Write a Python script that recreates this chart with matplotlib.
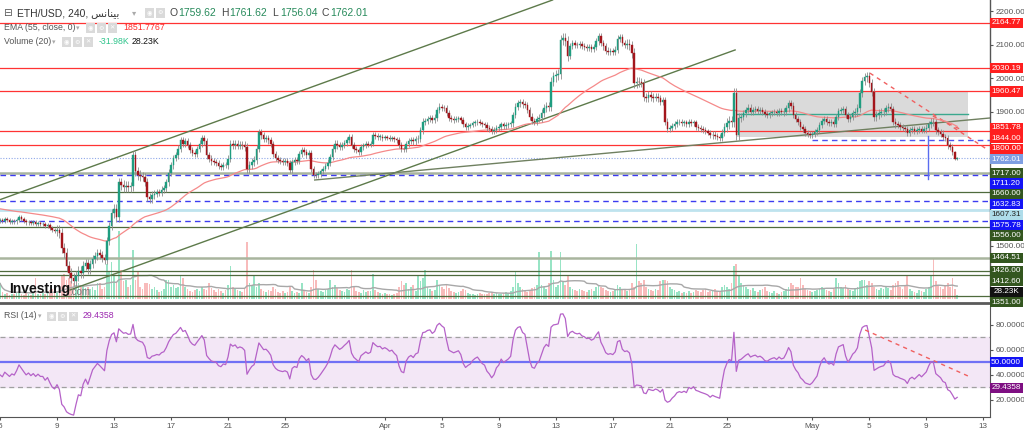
import numpy as np
import pandas as pd
import matplotlib
matplotlib.use("Agg")
import matplotlib.pyplot as plt
import matplotlib.dates as mdates
from matplotlib.patches import Rectangle
from matplotlib.lines import Line2D
from matplotlib.ticker import FormatStrFormatter

W, H = 1024, 433
NARROW = ['Liberation Sans Narrow', 'Liberation Sans', 'DejaVu Sans']
SANS = ['Liberation Sans', 'DejaVu Sans']
plt.rcParams['font.family'] = SANS

# ---------------- data (ETH/USD, 4h candles, 2023) ----------------
start_time = '2023-03-05 00:00'
first_open = 1575.0
close_rows = [
    [1578, 1574, 1580, 1576, 1572, 1575],   # Mar 5
    [1573, 1578, 1585, 1580, 1575, 1570],
    [1572, 1568, 1570, 1566, 1568, 1565],
    [1565, 1560, 1562, 1555, 1548, 1545],
    [1548, 1540, 1495, 1480, 1440, 1420],   # Mar 9
    [1405, 1395, 1410, 1425, 1420, 1440],
    [1450, 1430, 1445, 1462, 1470, 1478],
    [1472, 1465, 1458, 1515, 1560, 1598],
    [1610, 1585, 1690, 1682, 1675, 1680],   # Mar 13
    [1675, 1678, 1770, 1722, 1712, 1708],
    [1705, 1690, 1645, 1640, 1652, 1655],
    [1660, 1658, 1668, 1672, 1690, 1718],
    [1740, 1762, 1770, 1790, 1815, 1805],   # Mar 17
    [1812, 1800, 1785, 1778, 1775, 1790],
    [1805, 1822, 1812, 1770, 1760, 1752],
    [1750, 1748, 1738, 1735, 1742, 1740],
    [1760, 1805, 1800, 1805, 1798, 1802],   # Mar 21
    [1800, 1795, 1728, 1740, 1750, 1755],
    [1790, 1840, 1830, 1820, 1822, 1815],
    [1805, 1775, 1762, 1755, 1752, 1750],
    [1752, 1748, 1725, 1750, 1755, 1752],   # Mar 25
    [1775, 1785, 1780, 1772, 1778, 1730],
    [1712, 1710, 1715, 1722, 1730, 1738],
    [1748, 1765, 1790, 1805, 1800, 1795],
    [1800, 1808, 1815, 1825, 1800, 1790],   # Mar 29
    [1785, 1780, 1795, 1800, 1805, 1802],
    [1805, 1832, 1828, 1825, 1826, 1822],
    [1825, 1823, 1820, 1822, 1818, 1815],   # Apr 1
    [1800, 1790, 1788, 1805, 1812, 1815],
    [1812, 1818, 1820, 1845, 1870, 1872],
    [1878, 1880, 1876, 1882, 1905, 1915],
    [1912, 1910, 1895, 1880, 1878, 1876],   # Apr 5
    [1878, 1880, 1875, 1862, 1855, 1858],
    [1860, 1865, 1868, 1870, 1866, 1862],
    [1860, 1852, 1848, 1842, 1845, 1852],
    [1855, 1862, 1858, 1860, 1862, 1865],   # Apr 9
    [1890, 1915, 1925, 1928, 1922, 1920],
    [1905, 1885, 1872, 1870, 1878, 1882],
    [1895, 1910, 1918, 1915, 1990, 2005],
    [2008, 2012, 2115, 2120, 2110, 2065],   # Apr 13
    [2095, 2105, 2100, 2098, 2102, 2096],
    [2094, 2090, 2092, 2088, 2093, 2110],
    [2125, 2105, 2095, 2082, 2078, 2080],
    [2078, 2085, 2118, 2122, 2105, 2100],   # Apr 17
    [2102, 2098, 2075, 1985, 1990, 1988],
    [1985, 1945, 1940, 1950, 1945, 1942],
    [1945, 1940, 1930, 1935, 1870, 1850],
    [1852, 1858, 1862, 1868, 1870, 1866],   # Apr 21
    [1868, 1862, 1870, 1865, 1868, 1855],
    [1852, 1848, 1845, 1842, 1838, 1830],
    [1832, 1828, 1825, 1822, 1838, 1855],
    [1865, 1872, 1870, 1955, 1830, 1880],   # Apr 25
    [1885, 1895, 1905, 1912, 1900, 1905],
    [1908, 1902, 1905, 1900, 1892, 1890],
    [1895, 1898, 1900, 1896, 1902, 1898],
    [1900, 1910, 1925, 1918, 1890, 1878],   # Apr 29
    [1870, 1855, 1848, 1838, 1835, 1832],
    [1835, 1840, 1845, 1860, 1872, 1878],   # May 1
    [1870, 1866, 1868, 1864, 1885, 1902],
    [1905, 1908, 1890, 1878, 1885, 1895],
    [1900, 1910, 1955, 1992, 2002, 2005],
    [1985, 1960, 1885, 1890, 1895, 1898],   # May 5
    [1900, 1910, 1915, 1908, 1870, 1862],
    [1860, 1855, 1852, 1848, 1836, 1845],
    [1848, 1842, 1846, 1850, 1844, 1848],
    [1852, 1862, 1870, 1868, 1845, 1840],   # May 9
    [1835, 1825, 1822, 1800, 1795, 1780],
    [1759.62, 1762.01],                     # May 11
]
wick_by_day = [6, 6, 6, 6, 15, 15, 12, 12, 14, 14, 12, 10, 10, 9, 10, 9, 10,
               12, 10, 9, 9, 9, 8, 10, 9, 8, 8, 7, 9, 10, 10, 9, 8, 7, 8, 8,
               10, 10, 12, 15, 9, 9, 10, 10, 14, 12, 10, 9, 8, 8, 10, 15, 10,
               9, 8, 10, 9, 9, 9, 9, 12, 12, 10, 9, 8, 10, 10, 3]
volume_rows = [  # thousands
    [40, 18, 12, 15, 10, 14], [12, 16, 20, 14, 11, 15], [13, 10, 18, 55, 14, 12],
    [15, 12, 18, 22, 25, 30], [20, 35, 60, 65, 50, 55], [45, 40, 35, 40, 30, 35],
    [28, 32, 25, 30, 22, 40], [40, 25, 30, 90, 70, 95], [60, 40, 175, 75, 45, 50],
    [30, 35, 125, 50, 70, 30], [25, 40, 42, 38, 25, 30], [22, 18, 20, 25, 50, 48],
    [30, 35, 28, 32, 60, 55], [30, 25, 20, 18, 22, 25], [20, 30, 25, 22, 40, 28],
    [22, 18, 25, 20, 15, 22], [35, 85, 30, 25, 22, 20], [18, 25, 145, 40, 35, 60],
    [30, 40, 25, 20, 18, 22], [20, 30, 25, 18, 15, 20], [15, 18, 30, 20, 16, 18],
    [15, 40, 20, 18, 15, 30], [75, 50, 25, 20, 18, 22], [25, 50, 30, 35, 28, 22],
    [20, 18, 25, 22, 75, 30], [20, 18, 15, 22, 18, 20], [20, 65, 22, 18, 15, 14],
    [15, 12, 14, 10, 12, 15], [30, 45, 35, 40, 25, 30], [35, 20, 60, 45, 55, 75],
    [30, 25, 20, 22, 50, 35], [30, 25, 35, 28, 20, 18], [15, 18, 20, 25, 22, 15],
    [14, 12, 10, 12, 15, 12], [12, 14, 16, 18, 12, 15], [14, 12, 15, 18, 16, 20],
    [30, 70, 40, 30, 25, 20], [18, 22, 28, 30, 35, 120], [35, 30, 25, 40, 122, 50],
    [30, 35, 120, 45, 35, 60], [30, 25, 22, 20, 25, 22], [20, 18, 22, 25, 20, 30],
    [35, 30, 28, 22, 20, 18], [20, 25, 35, 30, 22, 25], [20, 25, 40, 30, 140, 45],
    [40, 50, 30, 25, 22, 20], [25, 22, 45, 50, 48, 45], [30, 25, 22, 18, 20, 15],
    [18, 15, 20, 16, 18, 22], [20, 18, 22, 25, 18, 20], [22, 25, 20, 18, 30, 35],
    [30, 25, 40, 85, 90, 60], [40, 35, 30, 25, 22, 28], [20, 18, 22, 25, 30, 20],
    [18, 15, 20, 16, 14, 18], [20, 25, 30, 40, 35, 30], [30, 55, 35, 25, 22, 20],
    [18, 20, 22, 25, 30, 28], [22, 20, 18, 25, 55, 40], [30, 28, 35, 25, 22, 20],
    [25, 30, 45, 50, 50, 35], [45, 40, 30, 25, 22, 28], [25, 30, 28, 22, 35, 40],
    [45, 30, 25, 35, 60, 25], [20, 18, 15, 22, 20, 18], [25, 30, 60, 105, 45, 35],
    [30, 25, 35, 40, 30, 55], [25, 10],
]
ema_seed = 1612.0
rsi_seed_gain, rsi_seed_loss = 3.0, 4.9

red_levels = [2164.77, 2030.19, 1960.47, 1844.00, 1800.00]
green_light_levels = [1717.00, 1464.51]
green_dark_levels = [1660.00, 1556.00, 1426.00, 1412.60, 1351.00]
blue_dashed_levels = [1711.20, 1632.83, 1575.78]
light_blue_levels = [1607.31]
last_price = 1762.01
ema_last = 1851.7767
vol_ma_last = 28.23
rsi_last = 29.4358
axis_price_ticks = [1500, 1900, 2000, 2100, 2200]
rsi_ticks = [20, 40, 60, 80]

upper_channel = [('2023-03-05 00:00', 1638.0), ('2023-04-08 21:00', 2173.0)]
lower_channel = [('2023-03-09 22:00', 1369.0), ('2023-04-25 14:00', 2084.0)]
long_support = [('2023-03-27 02:00', 1696.6), ('2023-05-13 11:00', 1881.3)]
red_trend = [('2023-05-05 01:00', 2015.0), ('2023-05-13 08:00', 1786.0)]
red_trend_short = [('2023-05-09 11:00', 1887.0), ('2023-05-11 12:00', 1845.5)]
range_box = [('2023-04-25 17:00', 1824.7), ('2023-05-11 22:00', 1961.7)]
range_mid = 1893.0
blue_short_level = [('2023-05-01 00:00', 1816.0), ('2023-05-13 11:00', 1816.0)]
blue_vertical = [('2023-05-09 03:00', 1827.6), ('2023-05-09 03:00', 1699.6)]
rsi_trend = [('2023-05-04 17:00', 75.6), ('2023-05-12 02:00', 38.0)]

x_tick_dates = ['2023-03-05', '2023-03-09', '2023-03-13', '2023-03-17', '2023-03-21',
                '2023-03-25', '2023-04-01', '2023-04-05', '2023-04-09', '2023-04-13',
                '2023-04-17', '2023-04-21', '2023-04-25', '2023-05-01', '2023-05-05',
                '2023-05-09', '2023-05-13']
x_tick_labels = ['5', '9', '13', '17', '21', '25', 'Apr', '5', '9', '13', '17', '21',
                 '25', 'May', '5', '9', '13']
x_range = ('2023-03-05 00:00', '2023-05-13 11:15')

# ---------------- derived series ----------------
closes = np.array([c for row in close_rows for c in row], dtype=float)
vols = np.array([v for row in volume_rows for v in row], dtype=float)
n = len(closes)
opens = np.r_[first_open, closes[:-1]]
wick = np.repeat(np.array(wick_by_day, float), 6)[:n]
highs = np.maximum(opens, closes) + wick
lows = np.minimum(opens, closes) - wick
up = closes >= opens
times = pd.date_range(start_time, periods=n, freq='4h')
xt = mdates.date2num(times.to_pydatetime())

alpha = 2.0 / 56.0
ema = np.empty(n)
prev = ema_seed
for i in range(n):
    prev = prev + alpha * (closes[i] - prev)
    ema[i] = prev

rsi = np.empty(n)
ag, al = rsi_seed_gain, rsi_seed_loss
prev_c = first_open
for i in range(n):
    d = closes[i] - prev_c
    ag = (ag * 13 + max(d, 0)) / 14
    al = (al * 13 + max(-d, 0)) / 14
    rsi[i] = 100 - 100 / (1 + ag / al)
    prev_c = closes[i]

vol_ma = pd.Series(vols).rolling(20, min_periods=1).mean().values


def dn(s):
    return mdates.date2num(pd.Timestamp(s).to_pydatetime())


# ---------------- layout ----------------
fig = plt.figure(figsize=(W / 100, H / 100), dpi=100, facecolor='white')


def fx(x):
    return x / W


def fy(y):
    return 1 - y / H


MAIN_TOP, MAIN_BOT = 0, 299
RSI_TOP, RSI_BOT = 306, 417
PLOT_R = 990
P_MAX, P_MIN = 2232.8, 1342.1
R_MAX, R_MIN = 94.8, 6.0
VOL_TOP = 767.0
LBL_FS = 5.9

main_rect = [0, fy(MAIN_BOT), fx(PLOT_R), (MAIN_BOT - MAIN_TOP) / H]
ax_v = fig.add_axes(main_rect)
ax_v.axis('off')
ax = fig.add_axes(main_rect, facecolor='none')
ax_r = fig.add_axes([0, fy(RSI_BOT), fx(PLOT_R), (RSI_BOT - RSI_TOP) / H])

x0, x1 = dn(x_range[0]), dn(x_range[1])
for a in (ax_v, ax, ax_r):
    a.set_xlim(x0, x1)
ax.set_ylim(P_MIN, P_MAX)
ax_v.set_ylim(0, VOL_TOP)
ax_r.set_ylim(R_MIN, R_MAX)

# volume
UPC, DNC = '#1f9d80', '#a3161c'
ax_v.bar(xt, vols, width=0.12, color=np.where(up, '#86e0bb', '#f7b0b0'), alpha=0.85,
         linewidth=0)
ax_v.plot(xt, vol_ma, color='#a8a8a8', lw=1.0)

# horizontal levels
for p in red_levels:
    ax.axhline(p, color='#ff3333', lw=0.9, zorder=2)
for p in green_light_levels:
    ax.axhline(p, color='#a9b59e', lw=1.8, zorder=2)
for p in green_dark_levels:
    ax.axhline(p, color='#4f6b3d', lw=0.9, zorder=2)
for p in blue_dashed_levels:
    ax.axhline(p, color='#3c3cf0', lw=1.0, ls=(0, (4, 3)), zorder=2)
for p in light_blue_levels:
    ax.axhline(p, color='#bfe3ee', lw=2.0, zorder=2)
ax.axhline(last_price, color='#8fa8e8', lw=0.8, ls=(0, (1, 1.5)), zorder=2)

# drawings
(bx0, bp0), (bx1, bp1) = range_box
ax.add_patch(Rectangle((dn(bx0), bp0), dn(bx1) - dn(bx0), bp1 - bp0,
                       facecolor='#d4d4d4', alpha=0.85, edgecolor='none', zorder=1))
ax.plot([dn(bx0), dn(bx1)], [range_mid, range_mid], color='#3aa88e', lw=1.0, zorder=2)
ax.axline((dn(upper_channel[0][0]), upper_channel[0][1]),
          (dn(upper_channel[1][0]), upper_channel[1][1]), color='#5d7a4a', lw=1.0, zorder=2)
for seg, col, ls in [(lower_channel, '#5d7a4a', '-'), (long_support, '#6f8060', '-'),
                     (red_trend, '#f06060', (0, (3, 3))),
                     (red_trend_short, '#f06060', (0, (3, 3))),
                     (blue_short_level, '#5050f0', (0, (4, 3))),
                     (blue_vertical, '#5a6cf0', '-')]:
    ax.plot([dn(seg[0][0]), dn(seg[1][0])], [seg[0][1], seg[1][1]], color=col, lw=1.0,
            ls=ls, zorder=2)

# EMA
ax.plot(xt, ema, color='#f58a8a', lw=0.9, zorder=3)

# candles
ax.vlines(xt, lows, highs, color='#8c8c8c', lw=0.6, zorder=4)
body = closes - opens
body = np.where(np.abs(body) < 1.2, np.where(up, 1.2, -1.2), body)
ax.bar(xt[up], body[up], bottom=opens[up], width=0.11, color=UPC, edgecolor=UPC,
       linewidth=0.3, zorder=5)
ax.bar(xt[~up], body[~up], bottom=opens[~up], width=0.11, color=DNC, edgecolor=DNC,
       linewidth=0.3, zorder=5)

# main axis styling
for s in ('left', 'top', 'bottom'):
    ax.spines[s].set_visible(False)
ax.spines['right'].set_color('#555555')
ax.spines['right'].set_linewidth(1.0)
ax.set_xticks([])
ax.yaxis.tick_right()
ax.set_yticks(axis_price_ticks)
ax.yaxis.set_major_formatter(FormatStrFormatter('%.2f'))
ax.tick_params(axis='y', labelsize=LBL_FS, colors='#555555', length=2.5, pad=1.5, width=0.8)
for lb in ax.get_yticklabels():
    lb.set_family(NARROW)

# RSI panel
ax_r.axhspan(30, 70, color='#f3e7f6', zorder=0)
ax_r.axhline(70, color='#a0a0a0', lw=0.9, ls=(0, (4, 3)))
ax_r.axhline(30, color='#a0a0a0', lw=0.9, ls=(0, (4, 3)))
ax_r.axhline(50, color='#7070f5', lw=1.6)
ax_r.plot(xt, rsi, color='#b562c8', lw=0.9)
ax_r.plot([dn(rsi_trend[0][0]), dn(rsi_trend[1][0])], [rsi_trend[0][1], rsi_trend[1][1]],
          color='#f06060', lw=1.0, ls=(0, (3, 3)))
for s in ('left', 'top'):
    ax_r.spines[s].set_visible(False)
for s in ('right', 'bottom'):
    ax_r.spines[s].set_color('#555555')
ax_r.yaxis.tick_right()
ax_r.set_yticks(rsi_ticks)
ax_r.yaxis.set_major_formatter(FormatStrFormatter('%.4f'))
ax_r.set_xticks([dn(d) for d in x_tick_dates])
ax_r.set_xticklabels(x_tick_labels)
ax_r.tick_params(labelsize=LBL_FS, colors='#555555', length=2.5, pad=1.5, width=0.8)
for lb in ax_r.get_yticklabels() + ax_r.get_xticklabels():
    lb.set_family(NARROW)

# panel separator
fig.add_artist(Line2D([0, fx(PLOT_R)], [fy(303), fy(303)], color='#5a5a5a', lw=2.0,
                      transform=fig.transFigure))


# ---------------- right-hand value labels ----------------
def price_px(p):
    return MAIN_TOP + (P_MAX - p) / (P_MAX - P_MIN) * (MAIN_BOT - MAIN_TOP)


RED, DKG, BLUE = '#ff1f1f', '#33561f', '#1414f5'
items = [(price_px(p), '%.2f' % p, RED, 'white') for p in red_levels]
items.append((price_px(ema_last), '%.2f' % ema_last, RED, 'white'))
items.append((price_px(last_price), '%.2f' % last_price, '#7f9fe3', 'white'))
items += [(price_px(p), '%.2f' % p, DKG, 'white') for p in green_light_levels + green_dark_levels]
items += [(price_px(p), '%.2f' % p, BLUE, 'white') for p in blue_dashed_levels]
items += [(price_px(p), '%.2f' % p, '#aedcea', '#222222') for p in light_blue_levels]
vol_y = MAIN_BOT - vol_ma_last / VOL_TOP * (MAIN_BOT - MAIN_TOP)
items.append((vol_y, '%.2fK' % vol_ma_last, '#111111', 'white'))
items.sort(key=lambda t: t[0])

prev_y = -100
for y, txt, bg, fg in items:
    y = max(y, prev_y + 10.4)
    prev_y = y
    fig.add_artist(Rectangle((fx(PLOT_R), fy(y + 5.1)), 33 / W, 10.2 / H,
                             transform=fig.transFigure, facecolor=bg, edgecolor='none',
                             zorder=5))
    fig.text(fx(PLOT_R + 16), fy(y), txt, ha='center', va='center', fontsize=LBL_FS,
             color=fg, family=NARROW, zorder=6)


def rsi_px(v):
    return RSI_TOP + (R_MAX - v) / (R_MAX - R_MIN) * (RSI_BOT - RSI_TOP)


for v, bg in [(50.0, BLUE), (rsi_last, '#7e0f82')]:
    y = rsi_px(v)
    fig.add_artist(Rectangle((fx(PLOT_R), fy(y + 5.1)), 33 / W, 10.2 / H,
                             transform=fig.transFigure, facecolor=bg, edgecolor='none',
                             zorder=5))
    fig.text(fx(PLOT_R + 16), fy(y), '%.4f' % v, ha='center', va='center',
             fontsize=LBL_FS, color='white', family=NARROW, zorder=6)


# ---------------- header texts ----------------
def icon(x, y, glyph):
    fig.add_artist(Rectangle((fx(x - 4.5), fy(y + 4.5)), 9 / W, 9 / H,
                             transform=fig.transFigure, facecolor='#dadada',
                             edgecolor='none', zorder=5))
    fig.text(fx(x), fy(y), glyph, ha='center', va='center', fontsize=4.5, color='white',
             family=['DejaVu Sans'], zorder=6)


def t(x, y, s, **kw):
    kw.setdefault('fontsize', 7.5)
    kw.setdefault('color', '#333333')
    fig.text(fx(x), fy(y), s, va='center', ha='left', zorder=6, **kw)


arabic = '\ufeb2\ufee7\ufe8e\ufee8\ufef4\ufe91'
t(3, 13, '\u229f', fontsize=7.5, family=['DejaVu Sans'], color='#555555')
t(17, 13, 'ETH/USD, 240, ' + arabic, family=['Liberation Sans', 'DejaVu Sans'])
t(132, 13, '\u25be', fontsize=6, color='#aaaaaa', family=['DejaVu Sans'])
icon(149, 13, '\u25c9')
icon(160, 13, '\u2699')
GREEN_V = '#278a5b'
for lx, letter, val in [(170, 'O', '1759.62'), (221, 'H', '1761.62'),
                        (272, 'L', '1756.04'), (322, 'C', '1762.01')]:
    t(lx, 13, letter, color='#444444')
    t(lx + 8, 13, val, color=GREEN_V)

t(4, 28, 'EMA (55, close, 0)', fontsize=6.3, color='#555555')
t(76, 28, '\u25be', fontsize=5, color='#aaaaaa', family=['DejaVu Sans'])
icon(90, 28, '\u25c9')
icon(101, 28, '\u2699')
icon(112, 28, '\u2715')
t(123, 28, '1851.7767', fontsize=6.3, color='#ff2a2a')

t(4, 42, 'Volume (20)', fontsize=6.3, color='#555555')
t(52, 42, '\u25be', fontsize=5, color='#aaaaaa', family=['DejaVu Sans'])
icon(66, 42, '\u25c9')
icon(77, 42, '\u2699')
icon(88, 42, '\u2715')
t(99, 42, '-31.98K', fontsize=6.3, color='#2cc38a')
t(132, 42, '28.23K', fontsize=6.3, color='#111111')

t(4, 316, 'RSI (14)', fontsize=6.3, color='#555555')
t(38, 316, '\u25be', fontsize=5, color='#aaaaaa', family=['DejaVu Sans'])
icon(51, 316, '\u25c9')
icon(62, 316, '\u2699')
icon(73, 316, '\u2715')
t(83, 316, '29.4358', fontsize=6.3, color='#9c27b0')

# logo
t(9, 289, 'Investing', fontsize=10, fontweight='bold', color='#111111')
t(69, 292, '.com', fontsize=7, color='#777777')

fig.savefig('out.png', dpi=100, facecolor='white')
